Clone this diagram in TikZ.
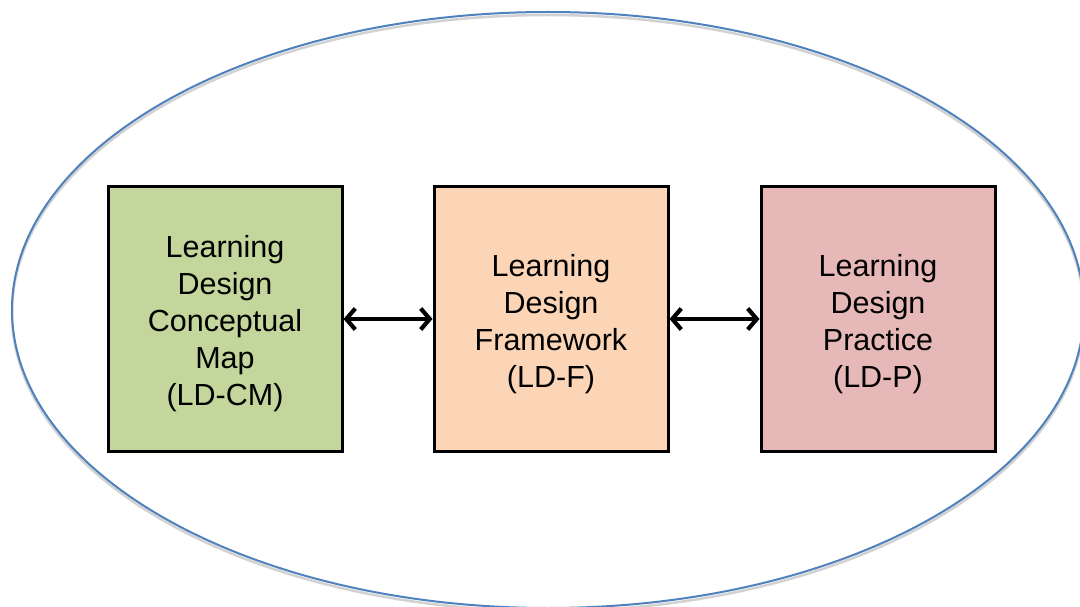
\documentclass[tikz,border=0pt]{standalone}
\usepackage{fontspec}
\setmainfont{Liberation Sans}
\usetikzlibrary{arrows.meta}
\definecolor{ellblue}{HTML}{4F81BD}
\definecolor{boxgreen}{HTML}{C3D69B}
\definecolor{boxorange}{HTML}{FBD5B5}
\definecolor{boxpink}{HTML}{E6B9B8}
\tikzset{
  ldbox/.style={draw=black, line width=3pt, minimum width=234pt, minimum height=264pt,
    inner sep=0pt},
  ldtext/.style={inner sep=0pt, align=center, text width=230pt,
    font=\fontsize{30.5pt}{37pt}\selectfont},
  dblarrow/.style={line width=4.2pt, {Straight Barb[length=9pt,width=21pt,line width=4.2pt]}-{Straight Barb[length=9pt,width=21pt,line width=4.2pt]}}
}
\begin{document}
\begin{tikzpicture}[x=1pt,y=-1pt]
\useasboundingbox (0,0) rectangle (1080,607);
\begin{scope}
\clip (0,0) rectangle (1080,607);
\draw[gray!35, line width=2.5pt] (548,313) ellipse [x radius=536, y radius=298];
\draw[ellblue, line width=2pt] (548,310) ellipse [x radius=536, y radius=298];
\end{scope}
\node[ldbox, fill=boxgreen] (cm) at (225,319) {};
\node[ldbox, fill=boxorange] (f) at (551,319) {};
\node[ldbox, fill=boxpink] (p) at (878,319) {};
\node[ldtext] (cmt) at ([yshift=-5pt]cm.center) {Learning\\Design\\Conceptual\\Map\\(LD-CM)};
\node[ldtext] (ft) at ([yshift=-5pt]f.center) {Learning\\Design\\Framework\\(LD-F)};
\node[ldtext] (pt) at ([yshift=-5pt]p.center) {Learning\\Design\\Practice\\(LD-P)};
\draw[dblarrow] (cm.east) -- (f.west);
\draw[dblarrow] (f.east) -- (p.west);
\end{tikzpicture}
\end{document}
